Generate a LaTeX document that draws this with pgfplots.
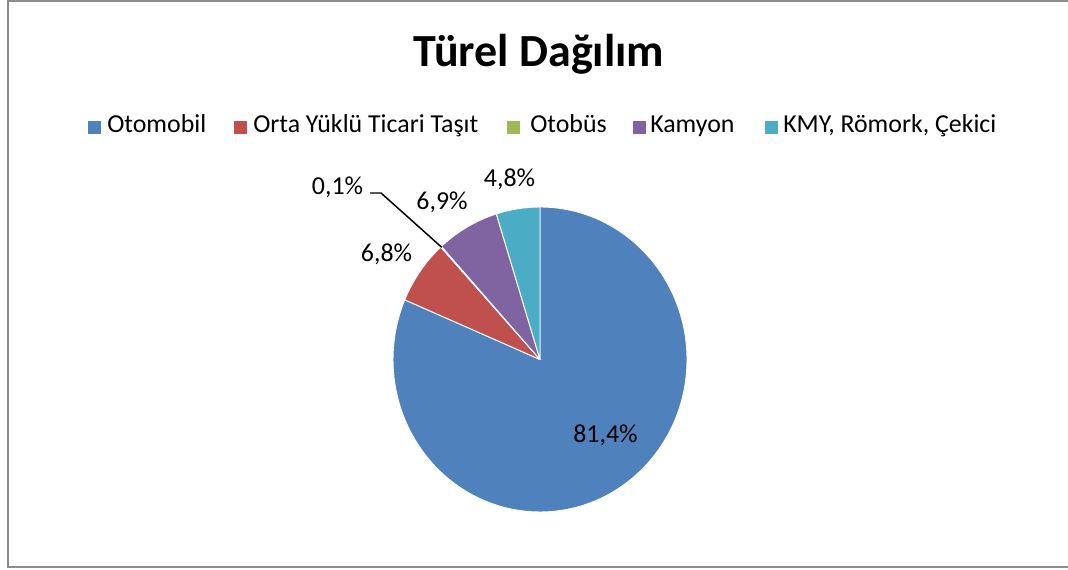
\documentclass[border=0pt]{standalone}
\usepackage{pgfplots}
\pgfplotsset{compat=1.18}
\usepackage{fontspec}
\setmainfont{Carlito}
\definecolor{cOto}{HTML}{4F81BD}
\definecolor{cOrta}{HTML}{C0504D}
\definecolor{cBus}{HTML}{9BBB59}
\definecolor{cKam}{HTML}{8064A2}
\definecolor{cKMY}{HTML}{4BACC6}
\definecolor{frame}{HTML}{8C8C8C}
% slice: start (cumulative %), value (%), colour
\newcommand\slice[3]{%
  \pgfmathsetmacro\sa{90-3.6*#1}%
  \pgfmathsetmacro\sb{90-3.6*(#1+#2)}%
  \edef\tmp{\noexpand\filldraw[fill=#3, draw=white, line width=0.7pt, line join=round]
    (axis cs:0,0) -- (axis cs:{cos(\sa)},{sin(\sa)})
    arc[start angle=\sa, end angle=\sb, x radius=110.25pt, y radius=114.375pt] -- cycle;}%
  \tmp}
\begin{document}
\begin{tikzpicture}[x=0.75pt,y=0.75pt]
\useasboundingbox (0,0) rectangle (1068,570);
\draw[frame, line width=1.5pt] (1068,569) -- (7.5,569) -- (7.5,3) -- (1068,3);
\node[anchor=base, font=\fontsize{34.5}{40}\selectfont\bfseries] at (539,503) {Türel Dağılım};
% legend
\begin{scope}[every node/.style={anchor=base west, inner sep=0pt, font=\fontsize{19.4}{22}\selectfont}]
\fill[cOto]  (88,436) rectangle (101,449);  \node at (107,437) {Otomobil};
\fill[cOrta] (234,436) rectangle (247,449); \node at (253,437) {Orta Yüklü Ticari Taşıt};
\fill[cBus]  (507,436) rectangle (520,449); \node at (530,437) {Otobüs};
\fill[cKam]  (633,436) rectangle (646,449); \node at (650,437) {Kamyon};
\fill[cKMY]  (765,436) rectangle (778,449); \node at (783,437) {KMY, Römork, Çekici};
\end{scope}
\begin{axis}[at={(405pt,157.875pt)}, anchor=center, scale only axis, width=220.5pt, height=228.75pt,
  xmin=-1, xmax=1, ymin=-1, ymax=1, hide axis, clip=false]
\slice{0}{81.4}{cOto}
\slice{81.4}{6.8}{cOrta}
\slice{88.2}{0.1}{cBus}
\slice{88.3}{6.9}{cKam}
\slice{95.2}{4.8}{cKMY}
\end{axis}
\begin{scope}[every node/.style={anchor=base, inner sep=0pt, font=\fontsize{19.4}{22}\selectfont}]
\node at (605.5,127) {81,4\%};
\node at (386.5,308) {6,8\%};
\node at (337.5,375) {0,1\%};
\node at (442,360) {6,9\%};
\node at (509.5,383) {4,8\%};
\end{scope}
\draw[black, line width=1.1pt] (370,377) -- (381,377) -- (441.7,322.7);
\end{tikzpicture}
\end{document}
